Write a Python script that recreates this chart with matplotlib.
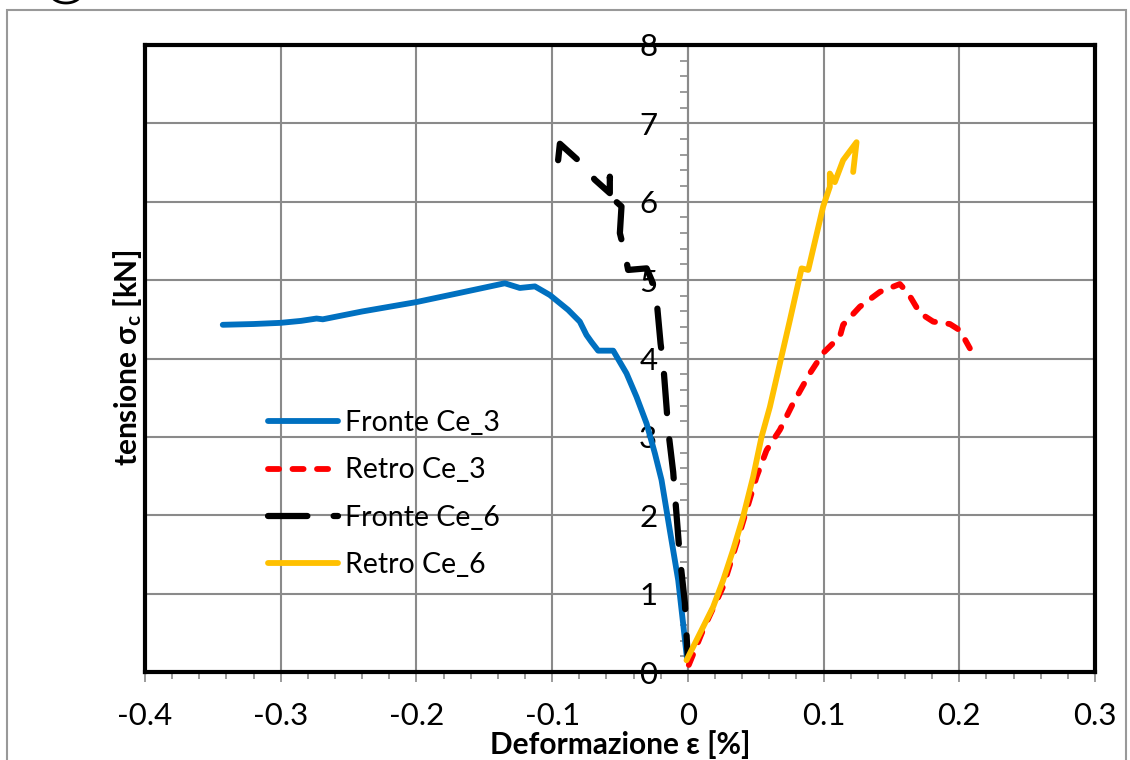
import matplotlib
matplotlib.use("Agg")
import numpy as np
import matplotlib.pyplot as plt
from matplotlib.patches import Rectangle
from matplotlib.lines import Line2D
from matplotlib.ticker import MultipleLocator

plt.rcParams['font.family'] = ['Lato', 'DejaVu Sans']
plt.rcParams['mathtext.fontset'] = 'custom'
plt.rcParams['mathtext.rm'] = 'Lato'
plt.rcParams['mathtext.bf'] = 'Lato:bold'
plt.rcParams['mathtext.it'] = 'Lato:italic'

# ---- data: strain [%] vs stress [kN] ----
fronte_ce3_x = [-0.3427, -0.32, -0.30, -0.285, -0.2736, -0.269, -0.24, -0.20, -0.17,
                -0.1349, -0.1238, -0.1127, -0.1017, -0.0882, -0.0796, -0.0747, -0.071,
                -0.0661, -0.055, -0.0452, -0.0378, -0.0304, -0.0243, -0.0194, -0.0133,
                -0.0071, -0.0035, -0.0005]
fronte_ce3_y = [4.43, 4.44, 4.455, 4.48, 4.51, 4.50, 4.60, 4.72, 4.83,
                4.96, 4.90, 4.92, 4.81, 4.62, 4.47, 4.30, 4.21,
                4.10, 4.10, 3.81, 3.51, 3.17, 2.79, 2.45, 1.81,
                1.17, 0.62, 0.15]

retro_ce3_x = [0.0007, 0.0113, 0.026, 0.0359, 0.0433, 0.0506, 0.058, 0.0678, 0.0776,
               0.0899, 0.0997, 0.112, 0.1144, 0.1267, 0.1415, 0.1562, 0.1624, 0.171,
               0.1808, 0.1931, 0.2004, 0.2078]
retro_ce3_y = [0.09, 0.54, 1.09, 1.64, 2.07, 2.49, 2.83, 3.09, 3.43,
               3.81, 4.07, 4.28, 4.43, 4.66, 4.85, 4.95, 4.83, 4.58,
               4.47, 4.44, 4.36, 4.13]

fronte_ce6_x = [-0.0956, -0.0943, -0.0783, -0.0685, -0.0575, -0.0575, -0.0560, -0.0489,
                -0.0501, -0.0464, -0.044, -0.0304, -0.0267, -0.023, -0.0201, -0.0182,
                -0.0157, -0.0145, -0.0108, -0.0096, -0.0059, -0.0022, -0.0005, 0.0]
fronte_ce6_y = [6.53, 6.74, 6.49, 6.28, 6.11, 6.32, 6.05, 5.94,
                5.60, 5.34, 5.13, 5.15, 5.00, 4.74, 4.19, 3.94,
                3.38, 3.09, 2.55, 2.28, 1.47, 0.88, 0.32, 0.2]

retro_ce6_x = [-0.001, 0.0088, 0.0186, 0.026, 0.0334, 0.0407, 0.0481, 0.0543, 0.0604,
               0.0752, 0.0838, 0.0887, 0.0997, 0.1046, 0.1046, 0.1083, 0.1144, 0.1243,
               0.1218]
retro_ce6_y = [0.15, 0.49, 0.83, 1.17, 1.56, 1.98, 2.49, 3.00, 3.38,
               4.49, 5.15, 5.13, 5.94, 6.19, 6.36, 6.25, 6.53, 6.76,
               6.38]

series_labels = ['Fronte Ce_3', 'Retro Ce_3', 'Fronte Ce_6', 'Retro Ce_6']
x_label = 'Deformazione ε [%]'
y_label = r'tensione σ$_\mathbf{c}$ [kN]'

W, H = 1130, 760
fig = plt.figure(figsize=(W / 100, H / 100), dpi=100)
ax = fig.add_axes([145 / W, 1 - 672 / H, 950 / W, 627 / H])

grid_c = '#8a8a8a'
TICK_FS = 22.5
LEG_FS = 20.5
LAB_FS = 21.5

ax.set_xlim(-0.4, 0.3)
ax.set_ylim(0, 8)
ax.xaxis.set_major_locator(MultipleLocator(0.1))
ax.xaxis.set_minor_locator(MultipleLocator(0.02))
ax.yaxis.set_major_locator(MultipleLocator(1))
ax.yaxis.set_minor_locator(MultipleLocator(0.2))


def fmt_x(v, pos):
    s = f'{v:.1f}'
    return '0' if s in ('0.0', '-0.0') else s


ax.xaxis.set_major_formatter(plt.FuncFormatter(fmt_x))
ax.yaxis.set_major_formatter(plt.FuncFormatter(lambda v, p: f'{v:.0f}'))

ax.grid(True, which='major', color=grid_c, lw=1.5, zorder=0)
ax.set_axisbelow(True)

# y axis drawn through x = 0
ax.spines['left'].set_position(('data', 0))
ax.spines['left'].set_color(grid_c)
ax.spines['left'].set_linewidth(1.5)
for s in ['top', 'right', 'bottom']:
    ax.spines[s].set_color('black')
    ax.spines[s].set_linewidth(3)
ax.plot([0, 0], [0, 1], transform=ax.transAxes, color='black', lw=3,
        clip_on=False, zorder=5, solid_capstyle='projecting')

ax.tick_params(axis='x', which='both', direction='out', color=grid_c, width=1.2)
ax.tick_params(axis='x', which='major', length=7.5, pad=14, labelsize=TICK_FS)
ax.tick_params(axis='x', which='minor', length=5)
ax.tick_params(axis='y', which='both', direction='out', color=grid_c, width=1.2)
ax.tick_params(axis='y', which='major', length=6, pad=16, labelsize=TICK_FS)
ax.tick_params(axis='y', which='minor', length=6)

ax.plot(fronte_ce3_x, fronte_ce3_y, color='#0070C0', lw=4.2, zorder=3,
        solid_capstyle='round', solid_joinstyle='round', label=series_labels[0])
ax.plot(retro_ce3_x, retro_ce3_y, color='#FF0000', lw=4.2, zorder=3,
        dashes=(1.9, 2.3), dash_capstyle='round', label=series_labels[1])
ax.plot(fronte_ce6_x, fronte_ce6_y, color='black', lw=4.5, zorder=3,
        dashes=(6.3, 4.2), dash_capstyle='round', label=series_labels[2])
ax.plot(retro_ce6_x, retro_ce6_y, color='#FFC000', lw=4.2, zorder=3,
        solid_capstyle='round', solid_joinstyle='round', label=series_labels[3])

leg = ax.legend(loc='center left', bbox_to_anchor=(268 / W, 1 - 494 / H),
                bbox_transform=fig.transFigure, frameon=False, fontsize=LEG_FS,
                handlelength=2.45, handletextpad=0.25, labelspacing=0.74,
                borderpad=0, borderaxespad=0)

fig.text(620 / W, 1 - 745 / H, x_label, ha='center', va='center',
         fontsize=LAB_FS, fontweight='bold')
fig.text(128 / W, 1 - 358 / H, y_label, ha='center', va='center',
         fontsize=LAB_FS, fontweight='bold', rotation=90)

# outer frame of the chart area
fig.patches.append(Rectangle((6.5 / W, -0.05), (1126 - 6.5) / W, 1.05 - 10.5 / H,
                             transform=fig.transFigure, fill=False,
                             edgecolor='#999999', lw=1.5))
# small curved stroke cut by the top edge
t = np.linspace(np.radians(200), np.radians(340), 40)
arc_x = (66 + 16 * np.cos(t)) / W
arc_y = 1 - (-8 - 11 * np.sin(t)) / H
fig.add_artist(Line2D(arc_x, arc_y, transform=fig.transFigure, color='black', lw=2))

fig.savefig('out.png', dpi=100)
